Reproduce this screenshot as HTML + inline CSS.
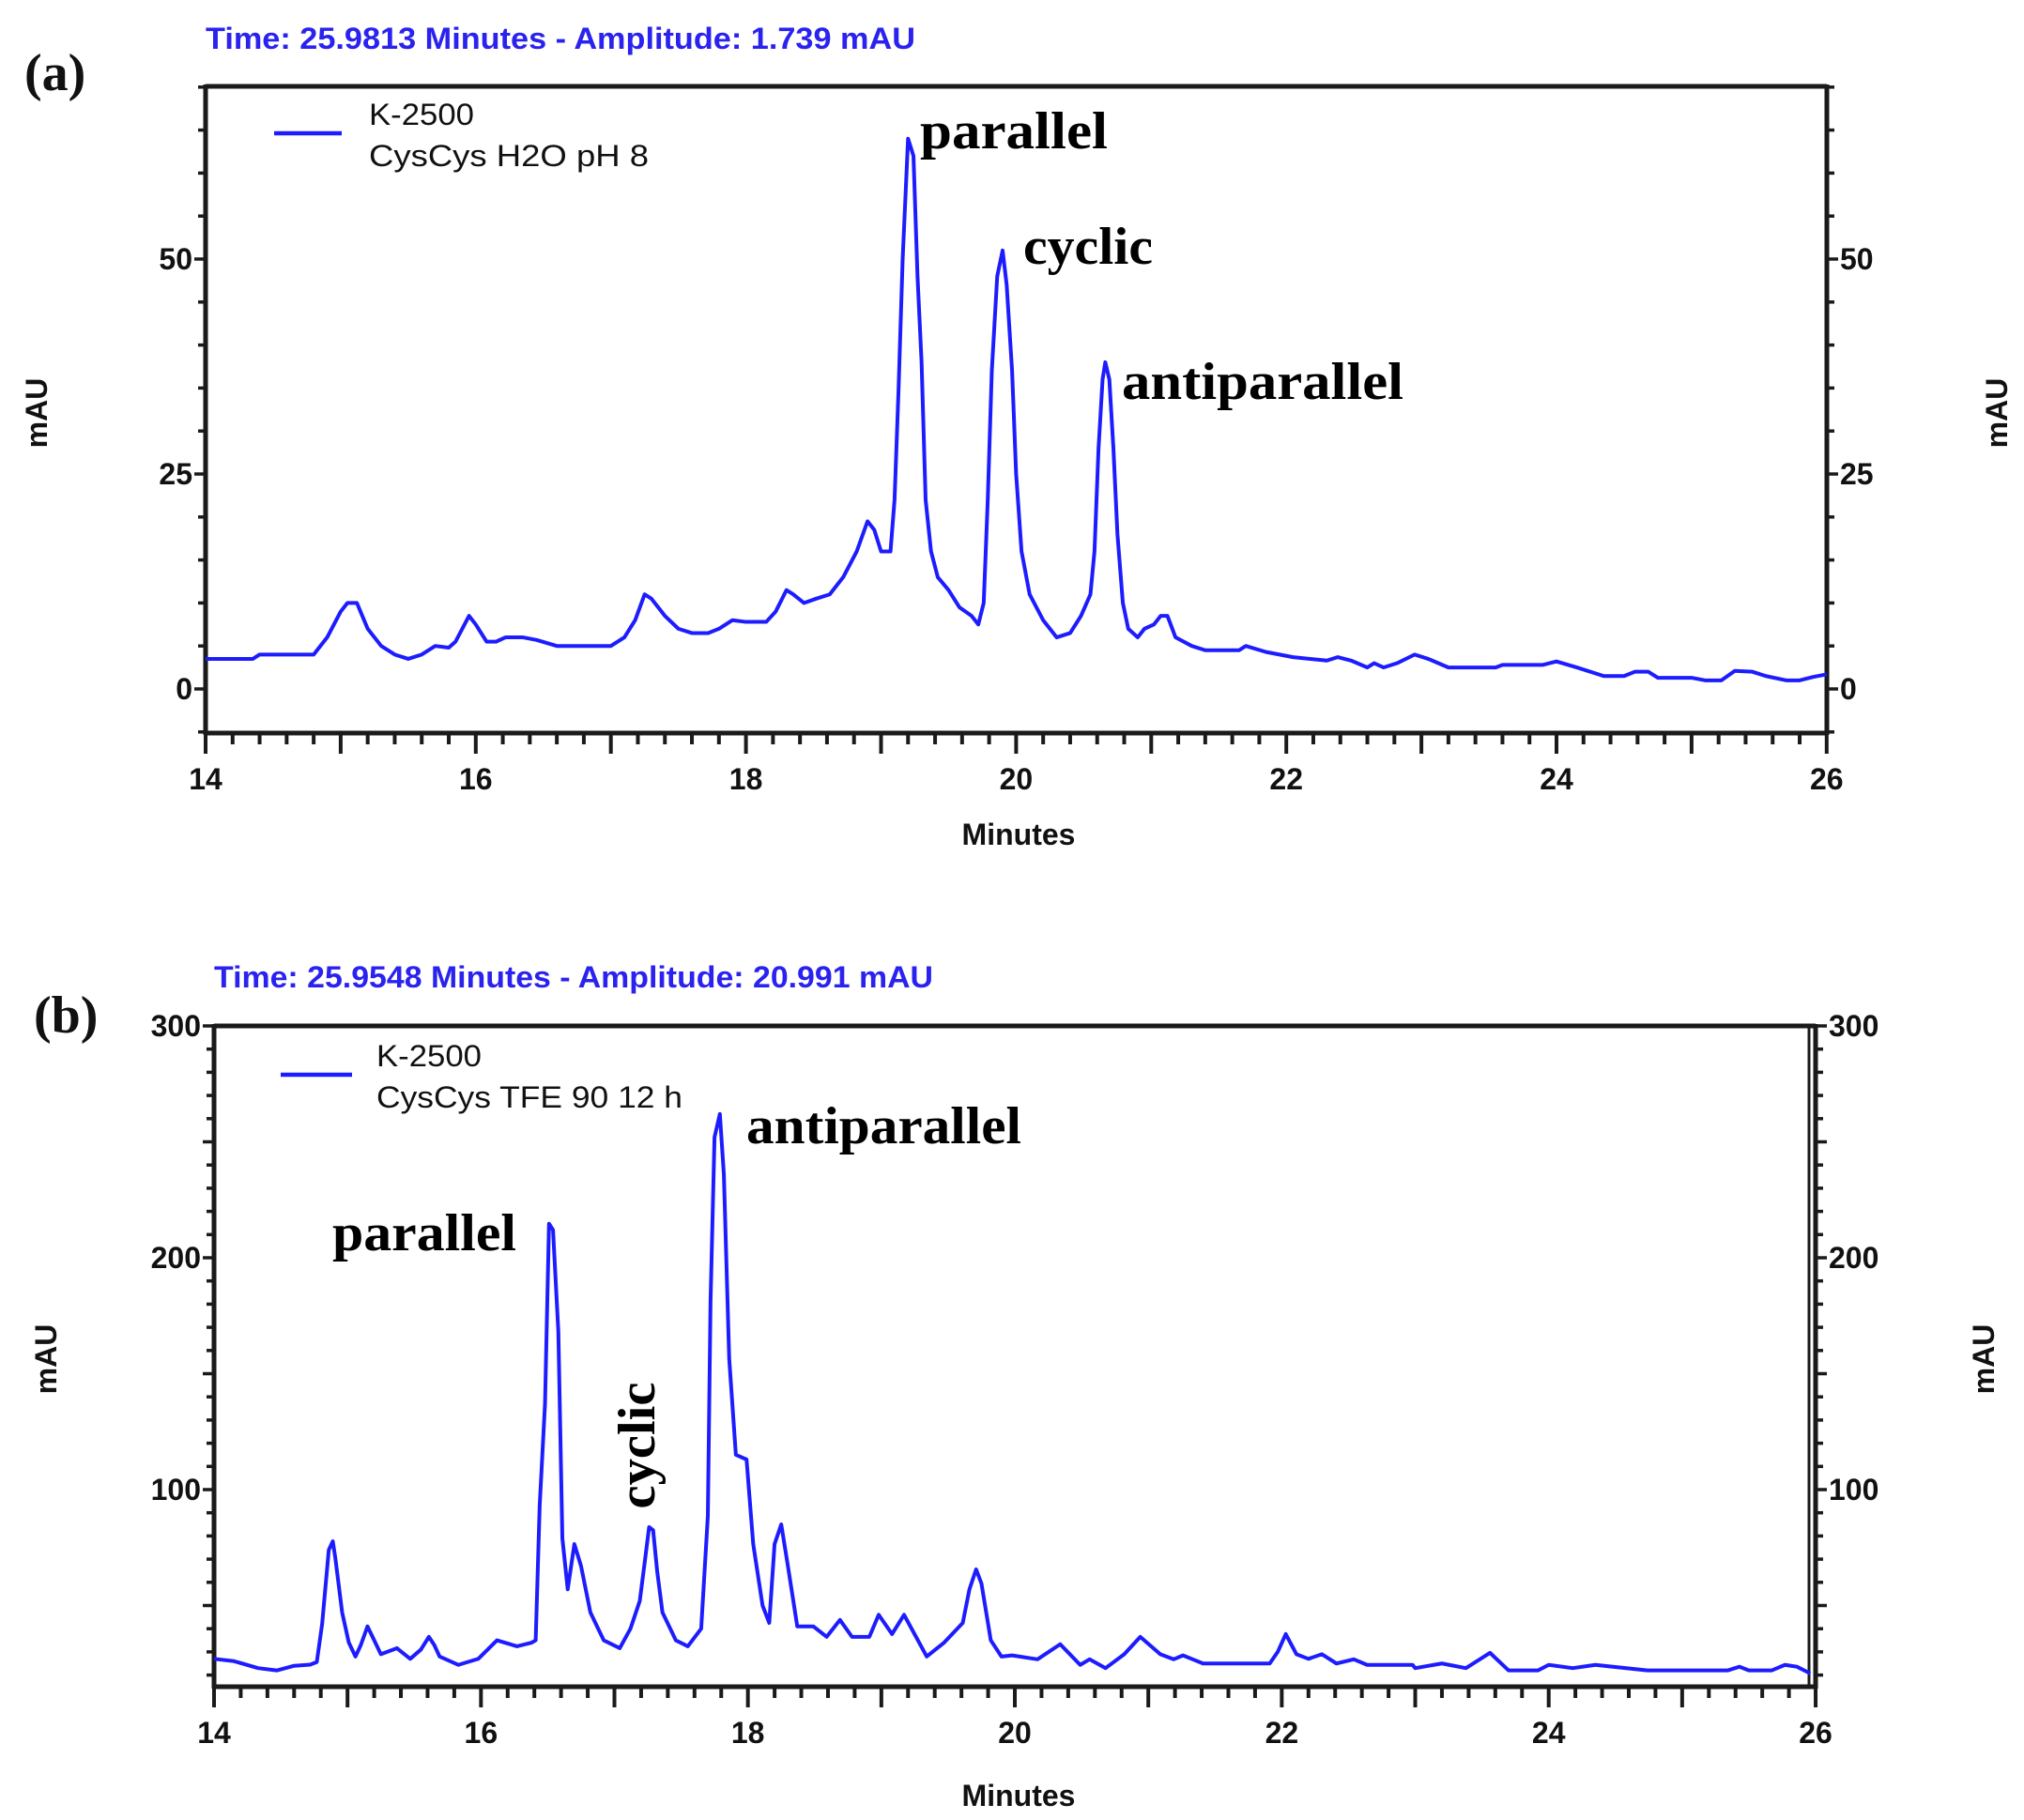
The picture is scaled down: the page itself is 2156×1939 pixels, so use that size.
<!DOCTYPE html>
<html><head><meta charset="utf-8"><style>
html,body{margin:0;padding:0;background:#fff}
svg{display:block}
.tk{font-family:"Liberation Sans",sans-serif;font-weight:bold;font-size:32px;fill:#111}
.lg{font-family:"Liberation Sans",sans-serif;font-size:32px;fill:#111}
.tm{font-family:"Liberation Sans",sans-serif;font-weight:bold;font-size:32px;fill:#2a22ee}
.an{font-family:"Liberation Serif",serif;font-weight:bold;font-size:56px;fill:#000}
.pl{font-family:"Liberation Serif",serif;font-weight:bold;font-size:56px;fill:#111}
.s{fill:none;stroke:#1c1cff;stroke-width:4;stroke-linejoin:round}
</style></head><body>
<svg id="g" width="2156" height="1939" viewBox="0 0 2156 1939" xmlns="http://www.w3.org/2000/svg">
<text x="26" y="96" class="pl">(a)</text>
<text x="219" y="52" class="tm" textLength="756" lengthAdjust="spacingAndGlyphs">Time:  25.9813 Minutes - Amplitude:  1.739 mAU</text>
<g id="axA"></g>
<line x1="292" y1="142" x2="364" y2="142" stroke="#1c1cff" stroke-width="4.5"/>
<text x="393" y="133" class="lg" textLength="112" lengthAdjust="spacingAndGlyphs">K-2500</text>
<text x="393" y="177" class="lg" textLength="298" lengthAdjust="spacingAndGlyphs">CysCys H2O pH 8</text>
<polyline class="s" vector-effect="non-scaling-stroke" transform="matrix(143.9 0 0 -9.16 -1795.6 734)" points="14,3.5 14.35,3.5 14.4,4 14.8,4 14.9,6 15.0,9 15.05,10 15.12,10 15.2,7 15.3,5 15.4,4 15.5,3.5 15.6,4 15.7,5 15.8,4.8 15.85,5.5 15.95,8.5 16.0,7.5 16.08,5.5 16.15,5.5 16.22,6 16.35,6 16.45,5.7 16.6,5 17.0,5 17.1,6 17.18,8 17.25,11 17.3,10.5 17.4,8.5 17.5,7 17.6,6.5 17.72,6.5 17.8,7 17.9,8 18.0,7.8 18.15,7.8 18.22,9 18.3,11.5 18.35,11 18.43,10 18.52,10.5 18.62,11 18.72,13 18.82,16 18.9,19.5 18.95,18.5 19.0,16 19.07,16 19.1,22 19.13,35 19.16,50 19.2,64 19.24,62 19.27,48 19.3,38 19.33,22 19.37,16 19.42,13 19.5,11.5 19.58,9.5 19.67,8.5 19.72,7.5 19.76,10 19.79,22 19.82,37 19.86,48 19.9,51 19.93,47 19.97,37 20.0,25 20.04,16 20.1,11 20.2,8 20.3,6 20.4,6.5 20.48,8.5 20.55,11 20.58,16 20.61,28 20.64,36 20.66,38 20.69,36 20.72,28 20.75,18 20.79,10 20.83,7 20.9,6 20.95,7 21.02,7.5 21.07,8.5 21.12,8.5 21.18,6 21.3,5 21.4,4.5 21.65,4.5 21.7,5 21.85,4.3 22.05,3.7 22.3,3.3 22.38,3.7 22.48,3.3 22.6,2.5 22.65,3 22.72,2.5 22.82,3 22.95,4 23.05,3.5 23.2,2.5 23.55,2.5 23.6,2.8 23.9,2.8 24.0,3.2 24.15,2.5 24.35,1.5 24.5,1.5 24.58,2 24.68,2 24.75,1.3 25.0,1.3 25.1,1 25.22,1 25.32,2.1 25.45,2 25.55,1.5 25.7,1 25.8,1 25.9,1.4 26,1.7"/>
<text x="1180" y="158" class="an" text-anchor="end" textLength="200" lengthAdjust="spacingAndGlyphs">parallel</text>
<text x="1090" y="281" class="an" textLength="138" lengthAdjust="spacingAndGlyphs">cyclic</text>
<text x="1195" y="425" class="an" textLength="300" lengthAdjust="spacingAndGlyphs">antiparallel</text>
<text x="1085" y="900" class="tk" text-anchor="middle" font-size="30">Minutes</text>
<text transform="translate(50,440) rotate(-90)" class="tk" text-anchor="middle" font-size="30">mAU</text>
<text transform="translate(2138,440) rotate(-90)" class="tk" text-anchor="middle" font-size="30">mAU</text>

<text x="36" y="1100" class="pl">(b)</text>
<text x="228" y="1052" class="tm" textLength="766" lengthAdjust="spacingAndGlyphs">Time:  25.9548 Minutes - Amplitude:  20.991 mAU</text>
<g id="axB"></g>
<line x1="299" y1="1145" x2="375" y2="1145" stroke="#1c1cff" stroke-width="4.5"/>
<text x="401" y="1136" class="lg" textLength="112" lengthAdjust="spacingAndGlyphs">K-2500</text>
<text x="401" y="1180" class="lg" textLength="326" lengthAdjust="spacingAndGlyphs">CysCys TFE 90 12 h</text>
<polyline class="s" vector-effect="non-scaling-stroke" transform="matrix(142.17 0 0 -2.47 -1762.4 1834)" points="14,27 14.15,26 14.33,23 14.47,22 14.6,24 14.72,24.5 14.77,25.6 14.81,42 14.86,74 14.89,77.7 14.91,70 14.96,47 15.01,34 15.06,28 15.1,33 15.15,41 15.2,35 15.25,29 15.37,31.6 15.47,27 15.55,31 15.61,36.5 15.65,33 15.69,28 15.83,24.4 15.98,27 16.05,31 16.12,35 16.27,32.4 16.38,34 16.41,35 16.44,93 16.48,137 16.51,214.7 16.54,212 16.58,168 16.61,79 16.65,57 16.7,76.5 16.75,67 16.82,47 16.92,35 17.04,31.6 17.12,40 17.19,52 17.23,70 17.26,83.8 17.29,82.5 17.32,65 17.36,47 17.46,35 17.55,32.4 17.65,40 17.7,88.6 17.72,180.7 17.75,252 17.79,262 17.82,236 17.86,156.5 17.91,115 17.99,113 18.04,76.5 18.11,50 18.16,42.5 18.2,76.5 18.25,85 18.3,67 18.37,41 18.49,41 18.59,36.5 18.69,43.8 18.78,36.5 18.91,36.5 18.98,46 19.08,37.7 19.17,46 19.34,28 19.47,34 19.61,42.5 19.66,57 19.71,65.6 19.75,59.5 19.82,35 19.9,28 19.98,28.5 20.17,26.8 20.34,33.3 20.49,24.4 20.56,26.8 20.68,23 20.82,29 20.94,36.5 21.09,29 21.19,26.8 21.26,28.5 21.41,25 21.91,25 21.97,30 22.03,37.7 22.11,29 22.2,27 22.3,29 22.41,25 22.54,26.8 22.64,24.4 22.98,24.4 23.0,23 23.2,25 23.38,23 23.56,29.6 23.7,22 23.92,22 24.0,24.4 24.18,23 24.35,24.4 24.74,22 25.34,22 25.43,23.6 25.5,22 25.67,22 25.77,24.4 25.86,23.6 25.96,20.7"/>
<text x="354" y="1332" class="an" textLength="196" lengthAdjust="spacingAndGlyphs">parallel</text>
<text x="795" y="1218" class="an" textLength="293" lengthAdjust="spacingAndGlyphs">antiparallel</text>
<text transform="translate(697,1540) rotate(-90)" class="an" text-anchor="middle" textLength="135" lengthAdjust="spacingAndGlyphs" font-size="52">cyclic</text>
<text x="1085" y="1924" class="tk" text-anchor="middle" font-size="30">Minutes</text>
<text transform="translate(60,1448) rotate(-90)" class="tk" text-anchor="middle" font-size="30">mAU</text>
<text transform="translate(2124,1448) rotate(-90)" class="tk" text-anchor="middle" font-size="30">mAU</text>
</svg>
<script>
(function(){
var NS="http://www.w3.org/2000/svg";
function el(p,n,a,t){var e=document.createElementNS(NS,n);for(var k in a)e.setAttribute(k,a[k]);if(t!==undefined)e.textContent=t;p.appendChild(e);return e;}
function axes(g,L,R,T,B,xs,yFn,yMin,yMax,yStep,yMed,yLab,xLabY,dbl){
  var c="#1a1a1a";
  el(g,"line",{x1:L,y1:T,x2:R,y2:T,stroke:c,"stroke-width":5});
  el(g,"line",{x1:L,y1:B,x2:R,y2:B,stroke:c,"stroke-width":5});
  el(g,"line",{x1:L,y1:T-2,x2:L,y2:B+2,stroke:c,"stroke-width":5});
  el(g,"line",{x1:R,y1:T-2,x2:R,y2:B+2,stroke:c,"stroke-width":5});
  if(dbl) el(g,"line",{x1:R-7,y1:T,x2:R-7,y2:B,stroke:c,"stroke-width":3});
  for(var i=0;i<=60;i++){var t=14+i*0.2;var x=L+(t-14)*xs;var maj=(i%5==0);
    el(g,"line",{x1:x,y1:B,x2:x,y2:B+(maj?22:12),stroke:c,"stroke-width":4});
    if(i%10==0) el(g,"text",{x:x,y:xLabY,"class":"tk","text-anchor":"middle"},String(14+i/5));}
  for(var v=yMin;v<=yMax+0.001;v+=yStep){var y=yFn(v);if(y<T-3||y>B+3)continue;
    var m=(Math.abs(v%yMed)<0.01);var len=m?12:8;
    el(g,"line",{x1:L-len,y1:y,x2:L,y2:y,stroke:c,"stroke-width":3.5});
    el(g,"line",{x1:R,y1:y,x2:R+len,y2:y,stroke:c,"stroke-width":3.5});}
  yLab.forEach(function(v){var y=yFn(v);
    el(g,"text",{x:L-14,y:y+11,"class":"tk","text-anchor":"end"},String(v));
    el(g,"text",{x:R+14,y:y+11,"class":"tk"},String(v));});
}
axes(document.getElementById("axA"),219,1946,92,781,143.9,function(v){return 734-v*9.16;},-5,70,5,25,[0,25,50],841,false);
axes(document.getElementById("axB"),228,1934,1093,1797,142.17,function(v){return 1834-v*2.47;},20,300,10,50,[100,200,300],1857,true);
})();
</script>
</body></html>
